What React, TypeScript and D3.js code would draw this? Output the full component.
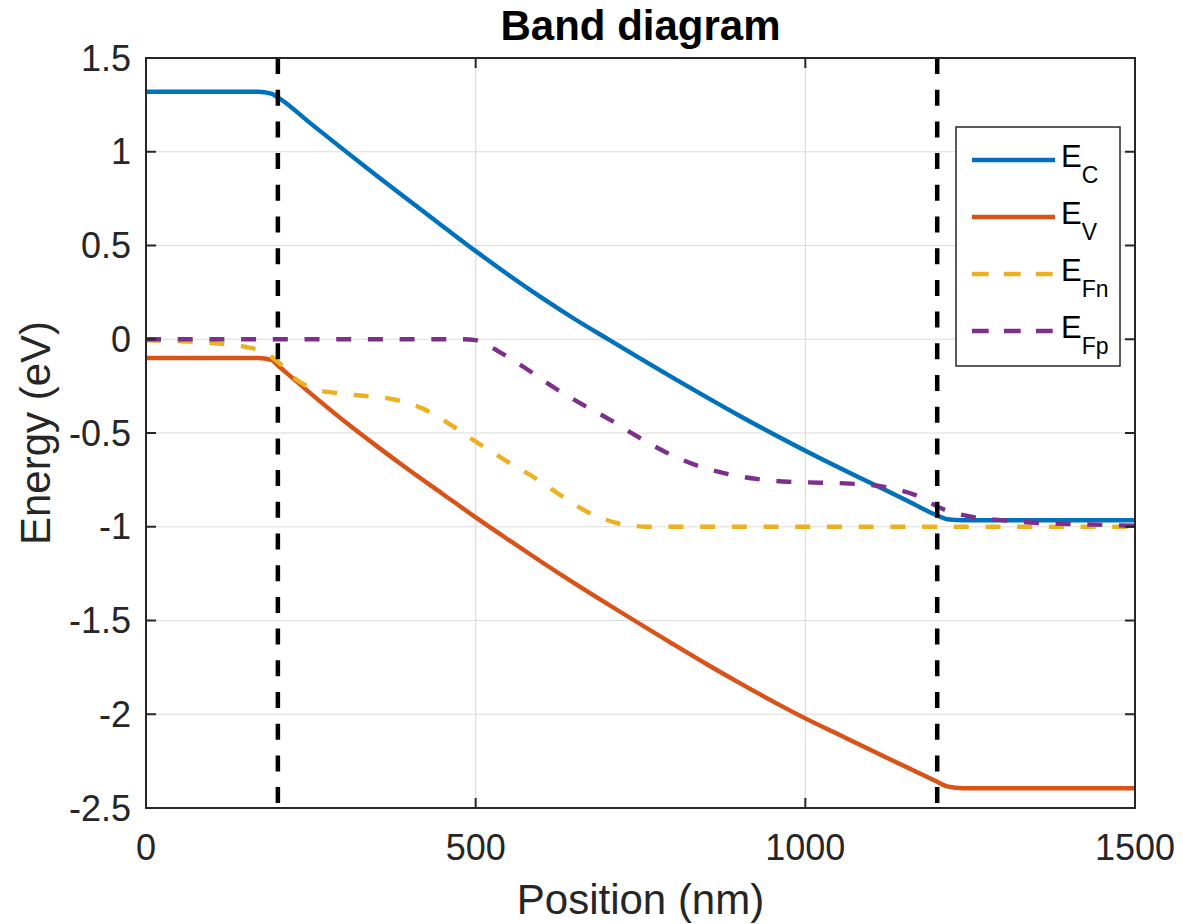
import React from "react";
import * as d3 from "d3";

const posEC = [0, 170, 190, 200, 250, 300, 350, 400, 450, 500, 550, 600, 650, 700, 750, 800, 850, 900, 950, 1000, 1050, 1100, 1150, 1200, 1215, 1240, 1500];
const valEC = [1.32, 1.32, 1.31, 1.29, 1.15, 1.01, 0.872, 0.737, 0.603, 0.47, 0.343, 0.222, 0.108, 0.002, -0.103, -0.207, -0.309, -0.408, -0.503, -0.595, -0.683, -0.768, -0.853, -0.94, -0.96, -0.965, -0.965];

const posEV = [0, 170, 190, 200, 250, 300, 350, 400, 450, 500, 550, 600, 650, 700, 750, 800, 850, 900, 950, 1000, 1050, 1100, 1150, 1200, 1215, 1240, 1500];
const valEV = [-0.1, -0.1, -0.11, -0.14, -0.29, -0.435, -0.57, -0.7, -0.825, -0.95, -1.07, -1.188, -1.302, -1.412, -1.52, -1.627, -1.732, -1.833, -1.93, -2.022, -2.107, -2.192, -2.276, -2.36, -2.385, -2.395, -2.395];

const posEFn = [0, 50, 100, 150, 180, 200, 230, 260, 285, 325, 375, 420, 466, 502, 547, 590, 628, 669, 714, 740, 760, 1500];
const valEFn = [-0.005, -0.01, -0.02, -0.04, -0.07, -0.12, -0.22, -0.27, -0.285, -0.3, -0.32, -0.37, -0.465, -0.55, -0.65, -0.74, -0.83, -0.92, -0.98, -0.995, -1.0, -1.0];

const posEFp = [0, 480, 500, 537, 578, 620, 663, 704, 746, 787, 833, 878, 926, 974, 1022, 1068, 1118, 1166, 1212, 1257, 1306, 1353, 1401, 1450, 1500];
const valEFp = [0, 0, -0.005, -0.07, -0.16, -0.26, -0.35, -0.43, -0.52, -0.6, -0.67, -0.715, -0.745, -0.76, -0.765, -0.77, -0.786, -0.83, -0.91, -0.95, -0.967, -0.98, -0.985, -0.99, -0.995];

const junctions = [200, 1200];
const xTicks = [0, 500, 1000, 1500];
const yTicks = [1.5, 1, 0.5, 0, -0.5, -1, -1.5, -2, -2.5];
const yTickLabels = ["1.5", "1", "0.5", "0", "-0.5", "-1", "-1.5", "-2", "-2.5"];

const seriesNames = ["C", "V", "Fn", "Fp"];
const seriesColors = ["#0072BD", "#D95319", "#EDB120", "#7E2F8E"];
const seriesDashed = [false, false, true, true];

const W = 1183, H = 924;
const L = 146, R = 1135, T = 58, B = 808;
const FONT = "'Liberation Sans', Arial, Helvetica, sans-serif";
const AX = "#262626";

export default function App() {
  const x = d3.scaleLinear().domain([0, 1500]).range([L, R]);
  const y = d3.scaleLinear().domain([-2.5, 1.5]).range([B, T]);
  const line = d3.line<[number, number]>().x(d => x(d[0])).y(d => y(d[1])).curve(d3.curveMonotoneX);
  const zip = (p: number[], v: number[]) => p.map((pp, i) => [pp, v[i]] as [number, number]);
  const series = [zip(posEC, valEC), zip(posEV, valEV), zip(posEFn, valEFn), zip(posEFp, valEFp)];
  const dash = "15 16.7";

  const legX = 956, legY = 127, legW = 164, legH = 239;
  const entryY = (i: number) => legY + 33 + i * 57;

  return (
    <svg width={W} height={H} style={{ position: "absolute", left: 0, top: 0, background: "#fff" }} fontFamily={FONT}>
      <rect x={0} y={0} width={W} height={H} fill="#fff" />
      {xTicks.map(t => (
        <line key={"gx" + t} x1={x(t)} x2={x(t)} y1={T} y2={B} stroke="#dcdcdc" strokeWidth={1.2} />
      ))}
      {yTicks.map(t => (
        <line key={"gy" + t} x1={L} x2={R} y1={y(t)} y2={y(t)} stroke="#dcdcdc" strokeWidth={1.2} />
      ))}
      <defs>
        <clipPath id="clip"><rect x={L} y={T} width={R - L} height={B - T} /></clipPath>
      </defs>
      <g clipPath="url(#clip)">
        {series.map((s, i) => (
          <path key={"s" + i} d={line(s) || ""} fill="none" stroke={seriesColors[i]} strokeWidth={4.4}
            strokeDasharray={seriesDashed[i] ? dash : undefined} />
        ))}
        {junctions.map(j => (
          <line key={"j" + j} x1={x(j)} x2={x(j)} y1={T} y2={B} stroke="#000" strokeWidth={4.5} strokeDasharray="16 15.7" />
        ))}
      </g>
      {xTicks.map(t => (
        <g key={"tx" + t}>
          <line x1={x(t)} x2={x(t)} y1={B} y2={B - 10} stroke={AX} strokeWidth={2} />
          <line x1={x(t)} x2={x(t)} y1={T} y2={T + 10} stroke={AX} strokeWidth={2} />
          <text x={x(t)} y={860} textAnchor="middle" fontSize={36} fill={AX}>{t}</text>
        </g>
      ))}
      {yTicks.map((t, i) => (
        <g key={"ty" + t}>
          <line x1={L} x2={L + 10} y1={y(t)} y2={y(t)} stroke={AX} strokeWidth={2} />
          <line x1={R} x2={R - 10} y1={y(t)} y2={y(t)} stroke={AX} strokeWidth={2} />
          <text x={131} y={y(t)} dy="0.35em" textAnchor="end" fontSize={36} fill={AX}>{yTickLabels[i]}</text>
        </g>
      ))}
      <rect x={L} y={T} width={R - L} height={B - T} fill="none" stroke={AX} strokeWidth={2} />
      <text x={(L + R) / 2} y={40} textAnchor="middle" fontSize={42} fontWeight="bold" fill="#000">Band diagram</text>
      <text x={(L + R) / 2} y={914} textAnchor="middle" fontSize={42} fill={AX}>Position (nm)</text>
      <text transform={`translate(50,${(T + B) / 2}) rotate(-90)`} textAnchor="middle" fontSize={42} fill={AX}>Energy (eV)</text>
      <rect x={legX} y={legY} width={legW} height={legH} fill="#fff" stroke={AX} strokeWidth={1.5} />
      {seriesNames.map((n, i) => (
        <g key={"lg" + n}>
          <line x1={972} x2={1055} y1={entryY(i)} y2={entryY(i)} stroke={seriesColors[i]} strokeWidth={4.4}
            strokeDasharray={seriesDashed[i] ? "16.7 15.3" : undefined} />
          <text x={1061} y={entryY(i) + 7} fontSize={31} fill="#000">
            E<tspan fontSize={23} dy={16}>{n}</tspan>
          </text>
        </g>
      ))}
    </svg>
  );
}
